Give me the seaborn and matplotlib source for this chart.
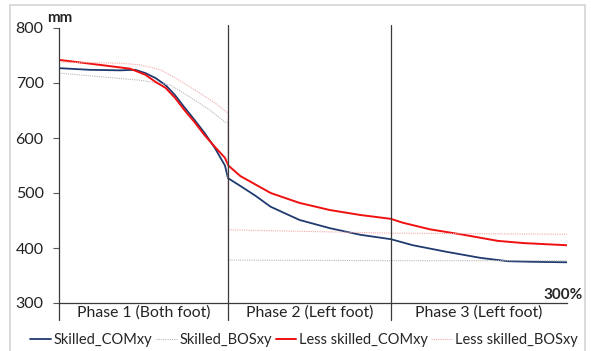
#!/usr/bin/env python3

import pandas as pd
import seaborn as sns
import matplotlib.pyplot as plt
from matplotlib.patches import Rectangle
from matplotlib.transforms import blended_transform_factory

# time axis in % of the movement, phase boundaries and labels
phase_edges = [0, 100, 196, 300]
phase_labels = ['Phase 1 (Both foot)', 'Phase 2 (Left foot)', 'Phase 3 (Left foot)']
y_ticks = [300, 400, 500, 600, 700, 800]

# centre of mass, skilled group
skilled_com_x = [0, 18, 36, 45, 51, 57, 63, 68.5, 74, 80, 86, 92, 98, 99.8,
                 107, 116, 125, 142, 160, 178, 196, 209, 229, 249, 265, 278, 300]
skilled_com_y = [727, 724, 723, 724, 718, 709, 696, 678, 656, 633, 609, 582, 550, 527,
                 513, 495, 475, 451, 436, 424, 416, 405, 393, 382, 376, 375, 374]

# centre of mass, less skilled group
less_com_x = [0, 24, 42, 51, 57, 63, 68.5, 74, 80, 86, 92, 98, 100,
              107, 125, 142, 160, 178, 196, 203, 219, 239, 259, 274, 300]
less_com_y = [742, 733, 726, 715, 702, 691, 673, 651, 629, 605, 584, 564, 550,
              531, 500, 482, 469, 460, 453, 446, 434, 424, 413, 409, 405]

# base of support, both groups
skilled_bos_x = [0, 48, 66, 77, 89, 98, 99.8, 100, 196, 300]
skilled_bos_y = [718, 705, 696, 675, 651, 629, 629, 378, 377, 377]
less_bos_x = [0, 36, 48, 60, 71, 83, 92, 99, 99.8, 100, 196, 300]
less_bos_y = [738, 736, 733, 724, 705, 682, 664, 647, 647, 433, 427, 425]


def make_plot():
    sns.set_style('white')
    plt.rcParams['font.family'] = ['Lato', 'DejaVu Sans']

    fig = plt.figure(figsize=(5.91, 3.51), dpi=100)
    ax = fig.add_axes([59 / 591, 1 - 303 / 351, 508 / 591, 275 / 351])

    series = [
        ('Skilled_COMxy', skilled_com_x, skilled_com_y, '#1f3a6e', 1.3, '-'),
        ('Skilled_BOSxy', skilled_bos_x, skilled_bos_y, '#b8b8b8', 0.8, (0, (1, 1))),
        ('Less skilled_COMxy', less_com_x, less_com_y, '#f01010', 1.4, '-'),
        ('Less skilled_BOSxy', less_bos_x, less_bos_y, '#f4a9a9', 0.8, (0, (1, 1))),
    ]
    for name, xs, ys, color, lw, ls in series:
        df = pd.DataFrame({'x': xs, 'y': ys})
        sns.lineplot(data=df, x='x', y='y', ax=ax, color=color, lw=lw,
                     linestyle=ls, estimator=None, sort=False, label=name)

    ax.set_xlim(phase_edges[0], phase_edges[-1])
    ax.set_ylim(y_ticks[0], y_ticks[-1])
    ax.set_yticks(y_ticks)
    ax.set_xticks([])
    ax.set_xlabel('')
    ax.set_ylabel('')
    ax.tick_params(axis='y', left=True, length=4, width=0.8, color='#595959',
                   labelsize=11.5, pad=7, labelcolor='#222222')
    for s in ['top', 'right']:
        ax.spines[s].set_visible(False)
    for s in ['left', 'bottom']:
        ax.spines[s].set_color('#3a3a3a')
        ax.spines[s].set_linewidth(0.9)

    # phase separators, running below the axis like long category ticks
    below = -17 / 275
    ax.axvline(phase_edges[0], ymin=below, ymax=0, color='#3a3a3a', lw=0.9, clip_on=False)
    for edge in phase_edges[1:-1]:
        ax.axvline(edge, ymin=below, ymax=1.011, color='#3a3a3a', lw=0.9, clip_on=False)

    trans = blended_transform_factory(ax.transData, ax.transAxes)
    for i, label in enumerate(phase_labels):
        mid = (phase_edges[i] + phase_edges[i + 1]) / 2
        ax.text(mid, -10 / 275, label, transform=trans, ha='center', va='center',
                fontsize=11.3, color='#222222')

    fig.text(47 / 591, 1 - 18 / 351, 'mm', fontsize=11, fontweight='bold', va='center')
    fig.text(583 / 591, 1 - 295 / 351, '300%', fontsize=11, fontweight='bold',
             ha='right', va='center')

    handles, labels = ax.get_legend_handles_labels()
    ax.get_legend().remove()
    fig.legend(handles, labels, loc='center', bbox_to_anchor=(304 / 591, 1 - 340 / 351),
               ncol=4, frameon=False, fontsize=10.5, handlelength=1.4,
               handletextpad=0.2, columnspacing=0.25, borderaxespad=0)

    fig.patches.append(Rectangle((10 / 591, -0.01), 575 / 591, 1 - 5 / 351 + 0.01,
                                 transform=fig.transFigure, fill=False,
                                 edgecolor='#d4d4d4', lw=1.2))

    fig.savefig('out.png', dpi=100)


if __name__ == '__main__':
    make_plot()
